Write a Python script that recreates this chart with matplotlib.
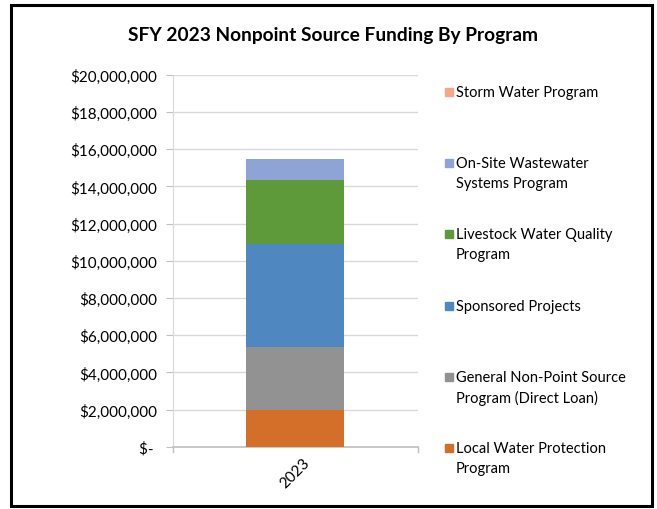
import matplotlib.pyplot as plt
from matplotlib.patches import Rectangle
import numpy as np

plt.rcParams['font.family'] = ['Lato', 'DejaVu Sans']

# Data
years = ["2023"]
programs = [
    "Local Water Protection\nProgram",
    "General Non-Point Source\nProgram (Direct Loan)",
    "Sponsored Projects",
    "Livestock Water Quality\nProgram",
    "On-Site Wastewater\nSystems Program",
    "Storm Water Program",
]
values = [1960000, 3420000, 5550000, 3400000, 1150000, 0]
colors = ["#D46F2A", "#929292", "#4F88C0", "#5F9A3A", "#8FA4D6", "#F3A88C"]

yticks = np.arange(0, 20000001, 2000000)
ytick_labels = ["$- "] + ["${:,.0f}".format(v) for v in yticks[1:]]

fig = plt.figure(figsize=(6.57, 5.10), dpi=100)
ax = fig.add_axes([0.2629, 0.1222, 0.3733, 0.7288])

x = np.arange(len(years))
bottom = np.zeros(len(years))
for val, col in zip(values, colors):
    ax.bar(x, [val], width=0.4, bottom=bottom, color=col, zorder=3)
    bottom += val

ax.set_xlim(-0.5, 0.5)
ax.set_ylim(0, 20000000)
ax.set_yticks(yticks)
ax.set_yticklabels(ytick_labels, fontsize=11)
ax.set_xticks(x)
ax.set_xticklabels(years, rotation=45, fontsize=11, ha="center")
ax.tick_params(axis="x", length=0, pad=6)
ax.tick_params(axis="y", length=5, color="#BFBFBF", pad=6)
ax.grid(axis="y", color="#D9D9D9", linewidth=1, zorder=0)
for s in ["top", "right"]:
    ax.spines[s].set_visible(False)
ax.spines["left"].set_color("#D9D9D9")
ax.spines["bottom"].set_color("#BFBFBF")
ax.spines["bottom"].set_linewidth(1.2)
# category tick marks at the ends of the axis
for xe in [-0.5, 0.5]:
    ax.plot([xe, xe], [0, -300000], color="#BFBFBF", lw=1, clip_on=False)

fig.text(0.507, 0.93, "SFY 2023 Nonpoint Source Funding By Program",
         ha="center", va="center", fontsize=13.8, fontweight="bold")

# legend, top entry is the last series
W, H = 657, 510
for i, (lab, col) in enumerate(zip(programs[::-1], colors[::-1])):
    ypix = 93 + i * 71.2
    fig.patches.append(Rectangle((445 / W, 1 - (ypix + 4) / H), 8 / W, 8 / H,
                                 transform=fig.transFigure, color=col))
    fig.text(456 / W, 1 - (ypix - 7) / H, lab, ha="left", va="top",
             fontsize=10.5, linespacing=1.55)

# outer frame
fig.patches.append(Rectangle((11 / W, 1 - 507 / H), 641 / W, 501 / H,
                             transform=fig.transFigure, fill=False,
                             edgecolor="black", linewidth=2.2))

plt.savefig("out.png", dpi=100)
plt.close()
